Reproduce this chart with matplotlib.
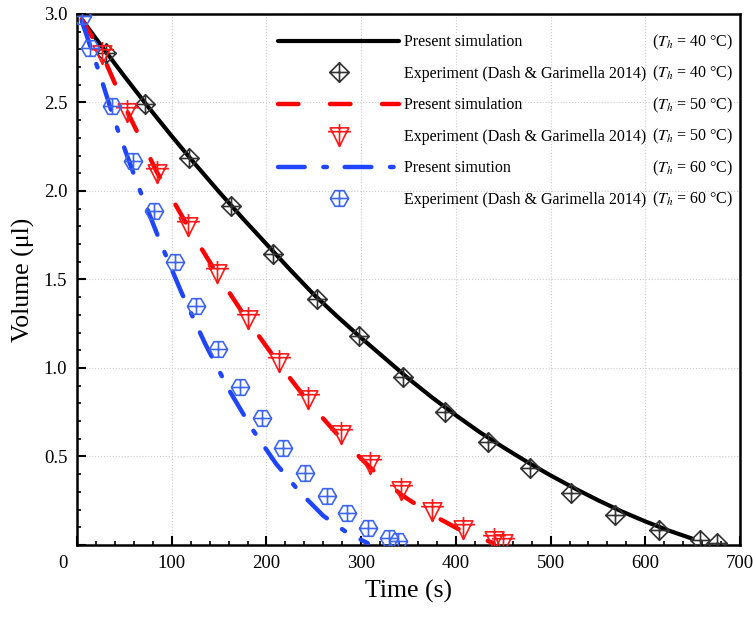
import numpy as np
import matplotlib
matplotlib.use('Agg')
import matplotlib.pyplot as plt
from matplotlib.path import Path
from matplotlib.ticker import MultipleLocator, FuncFormatter

plt.rcParams['font.family'] = ['Liberation Serif', 'DejaVu Serif']
plt.rcParams['mathtext.fontset'] = 'stix'

# simulation curves
sim40_t = [5, 25, 50, 75, 100, 125, 150, 175, 200, 225, 250, 275, 300, 325, 350,
           375, 400, 425, 450, 475, 500, 525, 550, 575, 600, 625, 650]
sim40_v = [2.97, 2.825, 2.648, 2.476, 2.31, 2.15, 1.995, 1.845, 1.70, 1.555, 1.415,
           1.29, 1.17, 1.055, 0.94, 0.833, 0.733, 0.638, 0.552, 0.47, 0.393, 0.321,
           0.253, 0.19, 0.133, 0.081, 0.035]
sim50_t = [5, 26, 52, 84, 117, 148, 180, 213, 244, 279, 309, 342, 375, 408, 440]
sim50_v = [2.97, 2.78, 2.46, 2.11, 1.80, 1.53, 1.27, 1.025, 0.81, 0.60, 0.44, 0.285,
           0.17, 0.075, 0.01]
sim60_t = [5, 24, 40, 63, 88, 110, 135, 160, 185, 210, 235, 260, 285, 307]
sim60_v = [2.96, 2.66, 2.39, 2.05, 1.71, 1.43, 1.14, 0.88, 0.655, 0.46, 0.30, 0.165,
           0.07, 0.01]

# experiment (Dash & Garimella 2014)
exp40_t = [31, 72, 118, 163, 207, 253, 298, 344, 389, 434, 478, 522, 568, 614, 658, 676]
exp40_v = [2.78, 2.49, 2.185, 1.917, 1.644, 1.39, 1.18, 0.95, 0.753, 0.584, 0.433, 0.292,
           0.17, 0.085, 0.028, 0.01]
exp50_t = [26, 52.5, 84, 117.5, 148, 180, 213, 244, 279, 309, 342, 375, 408, 440, 450]
exp50_v = [2.78, 2.45, 2.105, 1.81, 1.54, 1.28, 1.04, 0.83, 0.635, 0.465, 0.315, 0.198,
           0.094, 0.035, 0.018]
exp60_t = [5, 14, 37, 59, 81, 103.5, 126, 149, 172, 195, 217, 241, 264, 285, 307, 329, 339]
exp60_v = [2.99, 2.81, 2.48, 2.17, 1.885, 1.60, 1.35, 1.11, 0.89, 0.715, 0.55, 0.405,
           0.275, 0.18, 0.095, 0.038, 0.025]

sim_labels = ['Present simulation', 'Present simulation', 'Present simution']
exp_label = 'Experiment (Dash & Garimella 2014)'
temps = [40, 50, 60]


def crossed(outline, cross):
    verts = list(outline) + [outline[0]]
    codes = [Path.MOVETO] + [Path.LINETO] * (len(outline) - 1) + [Path.CLOSEPOLY]
    for a, b in cross:
        verts += [a, b]
        codes += [Path.MOVETO, Path.LINETO]
    return Path(verts, codes)


diamond = crossed([(0, 1), (1, 0), (0, -1), (-1, 0)],
                  [((0, 1), (0, -1)), ((-1, 0), (1, 0))])
tri_down = crossed([(-0.85, 0.7), (0.85, 0.7), (0, -1.0)],
                   [((0, 1.05), (0, -1.0)), ((-1.05, 0.35), (1.05, 0.35))])
ang = np.radians(np.arange(0, 360, 60))
hexagon = crossed(list(zip(np.cos(ang), np.sin(ang))),
                  [((-1, 0), (1, 0)), ((0, 0.87), (0, -0.87))])

fig = plt.figure(figsize=(7.53, 6.19), dpi=100)
ax = fig.add_axes([0.1023, 0.1196, 0.8804, 0.8578])

blue_line = '#1f45ff'
blue_mk = '#3f66f2'

l1, = ax.plot(sim40_t, sim40_v, color='black', lw=3, solid_capstyle='round', zorder=3)
m1, = ax.plot(exp40_t, exp40_v, ls='none', marker=diamond, ms=14, mfc='none',
              mec='#333333', mew=1.2, zorder=4)
l2, = ax.plot(sim50_t, sim50_v, color='red', lw=3.2, dashes=(4.6, 7.1),
              dash_capstyle='round', zorder=3)
m2, = ax.plot(exp50_t, exp50_v, ls='none', marker=tri_down, ms=16.5, mfc='none',
              mec='#ff1a1a', mew=1.2, zorder=4)
l3, = ax.plot(sim60_t, sim60_v, color=blue_line, lw=3.2, dashes=(6, 4.2, 0.8, 4.0),
              dash_capstyle='round', zorder=3)
m3, = ax.plot(exp60_t, exp60_v, ls='none', marker=hexagon, ms=13, mfc='none',
              mec=blue_mk, mew=1.2, zorder=4)

ax.set_xlim(0, 700)
ax.set_ylim(0, 3)
ax.xaxis.set_major_locator(MultipleLocator(100))
ax.xaxis.set_minor_locator(MultipleLocator(20))
ax.yaxis.set_major_locator(MultipleLocator(0.5))
ax.yaxis.set_minor_locator(MultipleLocator(0.1))
ax.xaxis.set_major_formatter(FuncFormatter(lambda v, p: '' if v == 0 else f'{v:.0f}'))
ax.yaxis.set_major_formatter(FuncFormatter(lambda v, p: '' if v == 0 else f'{v:.1f}'))
ax.tick_params(which='both', direction='in', top=False, right=False, labelsize=13.5, pad=7)
ax.tick_params(which='major', length=6.5, width=1.5)
ax.tick_params(which='minor', length=3, width=1.2)
ax.annotate('0', xy=(0, 0), xycoords='axes fraction', xytext=(-6.5, -7.5),
            textcoords='offset points', ha='right', va='top', fontsize=13.5)
for s in ax.spines.values():
    s.set_linewidth(1.8)
ax.grid(True, which='major', ls=':', color='#cccccc', lw=0.8)
ax.set_axisbelow(True)

ax.set_xlabel('Time (s)', fontsize=18.5, labelpad=6)
ax.set_ylabel('Volume (μl)', fontsize=18.5, labelpad=6)

handles = [l1, m1, l2, m2, l3, m3]
labels = [sim_labels[0], exp_label, sim_labels[1], exp_label, sim_labels[2], exp_label]
leg = fig.legend(handles, labels, loc='upper left', bbox_to_anchor=(0.369, 0.9446),
                 frameon=False, fontsize=11.5, handlelength=7.6, handletextpad=0.3,
                 labelspacing=0.97, borderpad=0, borderaxespad=0, numpoints=1)

fig.canvas.draw()
inv = fig.transFigure.inverted()
for i, txt in enumerate(leg.get_texts()):
    bb = txt.get_window_extent()
    yc = inv.transform((0, (bb.y0 + bb.y1) / 2))[1]
    fig.text(733 / 753, yc, r'($T_h$ = %d °C)' % temps[i // 2], ha='right', va='center',
             fontsize=11.5)

fig.savefig('out.png', dpi=100)
